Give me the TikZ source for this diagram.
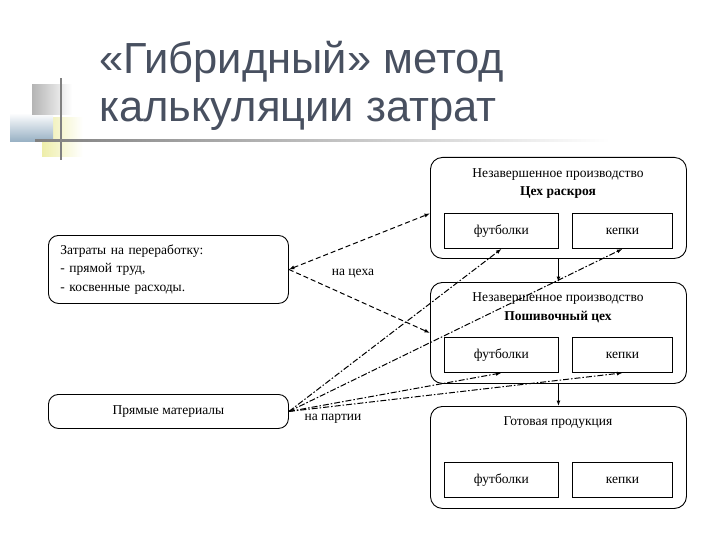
\documentclass[tikz,border=0pt]{standalone}
\usepackage{fontspec}
\setmainfont{Liberation Serif}
\newfontfamily\titlefont{Liberation Sans}
\usetikzlibrary{arrows.meta}
\definecolor{titlecol}{RGB}{72,80,96}
\definecolor{decgray}{RGB}{180,180,180}
\definecolor{decblue}{RGB}{150,175,195}
\definecolor{decyellow}{RGB}{238,238,170}
\definecolor{decline}{RGB}{128,128,128}
\tikzset{
  bigbox/.style={draw, line width=0.9pt, rounded corners=12pt, anchor=north west, inner sep=0pt, minimum width=256pt},
  innerbox/.style={draw, line width=0.9pt, anchor=north west, inner sep=0pt, minimum height=35pt, font=\fontsize{13.5}{16}\selectfont},
  leftbox/.style={draw, line width=0.9pt, rounded corners=10pt, anchor=north west, minimum width=240pt, font=\fontsize{13.5}{18.5}\selectfont},
  txt/.style={font=\fontsize{13.5}{16}\selectfont, inner sep=0pt},
  btxt/.style={font=\fontsize{13.5}{16}\selectfont\bfseries, inner sep=0pt},
  tip/.style={-{Latex[length=5.5pt,width=4pt]}},
  dline/.style={line width=1pt, dash pattern=on 5pt off 3pt},
  ddline/.style={line width=1pt, dash pattern=on 6pt off 2pt on 1.5pt off 2pt},
  title/.style={anchor=base west, inner sep=0pt, text=titlecol, font=\titlefont\fontsize{43.5}{48}\selectfont}
}
\begin{document}
\begin{tikzpicture}[x=1pt,y=-1pt]
\useasboundingbox (0,0) rectangle (720,540);
% decoration
\shade[left color=decyellow, right color=white] (42,118) rectangle (83,157);
\shade[left color=white, right color=decblue, shading angle=0] (10,113) rectangle (53,142);
\shade[left color=decgray, right color=white] (32,85) rectangle (72,115);
\fill[decline] (60,78) rectangle (62,160);
\shade[left color=decline, right color=white] (35,140) rectangle (610,142);
% title
\node[title] (t1) at (99,74) {«Гибридный» метод};
\node[title] (t2) at (99,122) {калькуляции затрат};
% box A
\node[bigbox, minimum height=101pt] (A) at (430,157) {};
\node[txt] (At1) at (558,175) {Незавершенное производство};
\node[btxt] (At2) at (558,193) {Цех раскроя};
\node[innerbox, minimum width=114pt] (Af) at (444,213) {футболки};
\node[innerbox, minimum width=100pt] (Ak) at (572,213) {кепки};
% box B
\node[bigbox, minimum height=101pt] (B) at (430,282) {};
\node[txt] (Bt1) at (558,299) {Незавершенное производство};
\node[btxt] (Bt2) at (558,317) {Пошивочный цех};
\node[innerbox, minimum width=114pt] (Bf) at (444,337) {футболки};
\node[innerbox, minimum width=100pt] (Bk) at (572,337) {кепки};
% box C
\node[bigbox, minimum height=102pt] (C) at (430,406) {};
\node[txt] (Ct1) at (558,423) {Готовая продукция};
\node[innerbox, minimum width=114pt] (Cf) at (444,462) {футболки};
\node[innerbox, minimum width=100pt] (Ck) at (572,462) {кепки};
% left boxes
\node[leftbox, minimum height=68pt, inner xsep=12pt, text width=216pt, align=left] (L1) at (48,235) {Затраты на переработку:\\- прямой труд,\\- косвенные расходы.};
\node[leftbox, minimum height=34pt, inner sep=0pt] (L2) at (48,394) {Прямые материалы};
% labels
\node[txt] (lab1) at (353,274) {на цеха};
\node[txt] (lab2) at (333,419) {на партии};
% connectors
\draw[dline, {Latex[length=5.5pt,width=4pt]}-{Latex[length=5.5pt,width=4pt]}] (L1.east) -- ([yshift=-5.5pt]A.west);
\draw[dline, tip] (L1.east) -- (B.west);
\draw[ddline, tip] (L2.east) -- (Af.south);
\draw[ddline, tip] (L2.east) -- (Ak.south);
\draw[ddline, tip] (L2.east) -- (Bf.south);
\draw[ddline, tip] (L2.east) -- (Bk.south);
\draw[line width=1.4pt, tip] (A.south) -- (B.north);
\draw[line width=1.4pt, tip] (B.south) -- (C.north);
\end{tikzpicture}
\end{document}
